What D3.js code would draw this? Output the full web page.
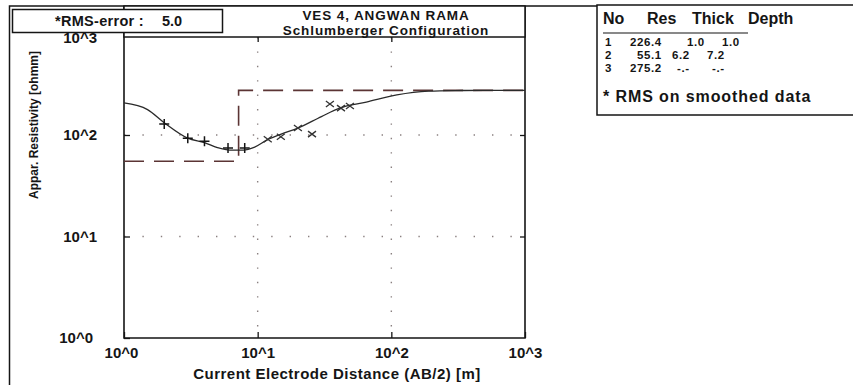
<!DOCTYPE html>
<html>
<head>
<meta charset="utf-8">
<script src="https://cdn.jsdelivr.net/npm/d3@7"></script>
<style>
  body { margin: 0; background: #fff; }
  svg { font-family: "Liberation Sans", Arial, sans-serif; font-weight: bold; }
</style>
</head>
<body>
<div id="chart"></div>
<script>
// layered model (dashed step line)
const layerNo = ['1', '2', '3']
const layerRes = [226.4, 55.1, 275.2]
const layerThick = ['1.0', '6.2', '-.-']
const layerDepth = ['1.0', '7.2', '-.-']
const layerTop = [0, 1.0, 7.2]

// calculated curve
const curveAB = [1.0, 1.5, 2.0, 3.0, 4.0, 5.0, 6.2, 7.8, 9.5, 11.7, 15, 20, 30, 41, 65, 110, 190, 300, 500, 1000]
const curveRho = [207, 178, 132, 93, 84, 75, 71, 71, 76, 89, 102, 117, 152, 184, 211, 248, 270, 274, 275, 275]

// field readings, + and x markers
const plusAB = [2.0, 3.0, 4.0, 6.0, 8.0]
const plusRho = [128, 93, 87, 74.5, 74.5]
const crossAB = [11.9, 14.9, 20.0, 25.5, 34.7, 42, 49]
const crossRho = [91, 96, 117, 102, 202, 184, 193]

const tickVals = [1, 10, 100, 1000]
const tickLabels = ['10^0', '10^1', '10^2', '10^3']
const titleLines = ['VES 4, ANGWAN RAMA', 'Schlumberger Configuration']

const W = 853, H = 385
const LEFT = 124, RIGHT = 525, TOP = 37, BOTTOM = 338
const INK = '#151515'
const MODEL = '#5b3434'

const svg = d3.select('#chart').append('svg')
  .attr('width', W)
  .attr('height', H)

const x = d3.scaleLog().domain([1, 1000]).range([LEFT, RIGHT])
const y = d3.scaleLog().domain([1, 1000]).range([BOTTOM, 33.5])

// dotted grid
svg.append('g').selectAll('line')
  .data([10, 100])
  .enter().append('line')
  .attr('x1', d => x(d)).attr('x2', d => x(d))
  .attr('y1', TOP).attr('y2', BOTTOM)
  .attr('stroke', '#8a8080')
  .attr('stroke-width', 1.4)
  .attr('stroke-dasharray', '1.4,13')
svg.append('g').selectAll('line')
  .data([10, 100])
  .enter().append('line')
  .attr('x1', LEFT).attr('x2', RIGHT)
  .attr('y1', d => y(d)).attr('y2', d => y(d))
  .attr('stroke', '#8a8080')
  .attr('stroke-width', 1.4)
  .attr('stroke-dasharray', '1.4,17')

// axes
const fmt = d => tickLabels[tickVals.indexOf(d)]
const xAxisGroup = svg.append('g')
  .attr('transform', `translate(0, ${BOTTOM})`)
  .call(d3.axisBottom(x).tickValues(tickVals).tickFormat(fmt).tickSize(-6).tickPadding(9))
const yAxisGroup = svg.append('g')
  .attr('transform', `translate(${LEFT}, 0)`)
  .call(d3.axisLeft(y).tickValues(tickVals).tickFormat(fmt).tickSize(-6).tickPadding(27))
svg.append('g')
  .attr('transform', `translate(0, ${TOP})`)
  .call(d3.axisTop(x).tickValues([10, 100]).tickFormat('').tickSize(-5))
svg.append('g')
  .attr('transform', `translate(${RIGHT}, 0)`)
  .call(d3.axisRight(y).tickValues([10, 100]).tickFormat('').tickSize(-5))

svg.selectAll('.domain').remove()
svg.selectAll('.tick line').attr('stroke', INK).attr('stroke-width', 1.3)
svg.selectAll('.tick text')
  .attr('fill', INK)
  .attr('font-size', '15px')
  .attr('font-family', '"Liberation Sans", Arial, sans-serif')
  .attr('font-weight', 'bold')
xAxisGroup.select('.tick text').attr('dx', '-3px')
yAxisGroup.select('.tick text').attr('dx', '-4px')
// top label sits half under the RMS box
yAxisGroup.selectAll('.tick text').filter(d => d === 1000).attr('dy', '0.62em')

// plot frame
svg.append('path')
  .attr('d', `M${LEFT},6V${BOTTOM}H${RIGHT}V6`)
  .attr('fill', 'none')
  .attr('stroke', INK)
  .attr('stroke-width', 1.6)

// model step line
const modelPts = layerTop
  .map((t, i) => ({ ab: Math.max(t, 1), rho: layerRes[i] }))
  .filter((p, i) => i === layerTop.length - 1 || layerTop[i + 1] > 1)
modelPts.push({ ab: 1000, rho: layerRes[layerRes.length - 1] })
svg.append('path')
  .datum(modelPts)
  .attr('fill', 'none')
  .attr('stroke', MODEL)
  .attr('stroke-width', 1.6)
  .attr('stroke-dasharray', '20,10')
  .attr('d', d3.line().curve(d3.curveStepAfter)
    .x(d => x(d.ab))
    .y(d => y(d.rho)))

// calculated curve
svg.append('path')
  .datum(curveAB.map((ab, i) => ({ ab, rho: curveRho[i] })))
  .attr('fill', 'none')
  .attr('stroke', '#2a2a2a')
  .attr('stroke-width', 1.3)
  .attr('d', d3.line().curve(d3.curveMonotoneX)
    .x(d => x(d.ab))
    .y(d => y(d.rho)))

// markers
svg.append('g').selectAll('path')
  .data(plusAB.map((ab, i) => ({ ab, rho: plusRho[i] })))
  .enter().append('path')
  .attr('d', d => {
    const cx = x(d.ab), cy = y(d.rho)
    return `M${cx - 5},${cy}h10M${cx},${cy - 5}v10`
  })
  .attr('stroke', INK)
  .attr('stroke-width', 1.5)
svg.append('g').selectAll('path')
  .data(crossAB.map((ab, i) => ({ ab, rho: crossRho[i] })))
  .enter().append('path')
  .attr('d', d => {
    const cx = x(d.ab), cy = y(d.rho)
    return `M${cx - 4},${cy - 3}L${cx + 4},${cy + 3}M${cx - 4},${cy + 3}L${cx + 4},${cy - 3}`
  })
  .attr('stroke', '#333')
  .attr('stroke-width', 1.3)

// outer frame and header boxes
svg.append('path')
  .attr('d', `M9.5,${H}V6H597`)
  .attr('fill', 'none')
  .attr('stroke', INK)
  .attr('stroke-width', 1.5)
svg.append('rect')
  .attr('x', LEFT).attr('y', 6)
  .attr('width', RIGHT - LEFT).attr('height', TOP - 6)
  .attr('fill', '#fff')
  .attr('stroke', INK)
  .attr('stroke-width', 1.5)
svg.append('rect')
  .attr('x', 12.5).attr('y', 9.5)
  .attr('width', 210).attr('height', 23)
  .attr('fill', '#fff')
  .attr('stroke', INK)
  .attr('stroke-width', 1.5)

svg.append('text')
  .attr('x', 55).attr('y', 26)
  .attr('font-size', '14.5px')
  .attr('letter-spacing', '0.3px')
  .attr('fill', INK)
  .text('*RMS-error :')
svg.append('text')
  .attr('x', 162).attr('y', 26)
  .attr('font-size', '14.5px')
  .attr('fill', INK)
  .text('5.0')

// two title lines as separate texts
svg.append('g').selectAll('text')
  .data(titleLines)
  .enter().append('text')
  .attr('x', 386)
  .attr('y', (d, i) => i === 0 ? 20 : 35)
  .attr('text-anchor', 'middle')
  .attr('font-size', '13.5px')
  .attr('letter-spacing', '0.9px')
  .attr('fill', INK)
  .text(d => d)

// axis titles
svg.append('text')
  .attr('x', 337).attr('y', 379)
  .attr('text-anchor', 'middle')
  .attr('font-size', '15px')
  .attr('letter-spacing', '0.5px')
  .attr('fill', INK)
  .text('Current Electrode Distance (AB/2) [m]')
svg.append('text')
  .attr('transform', 'translate(38, 125) rotate(-90)')
  .attr('text-anchor', 'middle')
  .attr('font-size', '12px')
  .attr('fill', INK)
  .text('Appar. Resistivity [ohmm]')

// layer table
const table = svg.append('g')
table.append('rect')
  .attr('x', 597).attr('y', 5)
  .attr('width', 280).attr('height', 110)
  .attr('fill', 'none')
  .attr('stroke', INK)
  .attr('stroke-width', 1.5)

const headX = [603, 647, 692, 748]
table.selectAll('text.head')
  .data(['No', 'Res', 'Thick', 'Depth'])
  .enter().append('text')
  .attr('class', 'head')
  .attr('x', (d, i) => headX[i]).attr('y', 23.5)
  .attr('font-size', '16px')
  .attr('fill', INK)
  .text(d => d)
table.append('line')
  .attr('x1', 603).attr('x2', 748)
  .attr('y1', 33).attr('y2', 33)
  .attr('stroke', INK)
  .attr('stroke-width', 1.2)

const rowY = [45.5, 58.5, 71.5]
const colX = [[605, 630, 687, 722], [605, 637, 672, 707], [605, 630, 677, 712]]
layerNo.forEach((no, i) => {
  const cells = [no, layerRes[i].toFixed(1), layerThick[i], layerDepth[i]]
  table.selectAll(`text.row${i}`)
    .data(cells)
    .enter().append('text')
    .attr('class', `row${i}`)
    .attr('x', (d, j) => colX[i][j]).attr('y', rowY[i])
    .attr('font-size', '11.5px')
    .attr('letter-spacing', '0.6px')
    .attr('fill', INK)
    .text(d => d)
})
table.append('text')
  .attr('x', 603).attr('y', 102)
  .attr('font-size', '16px')
  .attr('letter-spacing', '0.9px')
  .attr('fill', INK)
  .text('* RMS on smoothed data')
</script>
</body>
</html>
